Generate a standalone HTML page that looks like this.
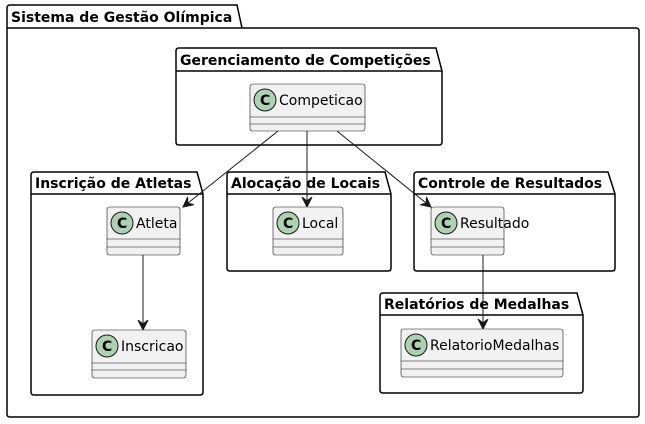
<!DOCTYPE html>
<html><head><meta charset="utf-8"><style>body{margin:0;background:#fff}svg{display:block}text{font-family:"DejaVu Sans","Liberation Sans",sans-serif}</style></head><body>
<svg width="645" height="424" viewBox="0 0 645 424" xmlns="http://www.w3.org/2000/svg">
<defs><marker id="a" markerWidth="12" markerHeight="12" refX="10" refY="6" orient="auto" markerUnits="userSpaceOnUse"><path d="M0,1 L10,6 L0,11 L4,6 Z" fill="#181818" stroke="#181818" stroke-width="1"/></marker></defs>
<g fill="none" stroke="#000" stroke-width="1.5">
<path d="M7,28 V8 Q7,5 10,5 H237 L242,28 H636 Q639,28 639,31 V414 Q639,417 636,417 H10 Q7,417 7,414 Z M7,28 H242"/>
<path d="M176,71 V51 Q176,48 179,48 H436 L442,71 V142 Q442,145 439,145 H179 Q176,145 176,142 Z M176,71 H442"/>
<path d="M31,194 V175 Q31,172 34,172 H197 L203,194 V392 Q203,395 200,395 H34 Q31,395 31,392 Z M31,194 H203"/>
<path d="M227,194 V175 Q227,172 230,172 H385 L391,194 V268 Q391,271 388,271 H230 Q227,271 227,268 Z M227,194 H391"/>
<path d="M414,194 V175 Q414,172 417,172 H608 L615,194 V268 Q615,271 612,271 H417 Q414,271 414,268 Z M414,194 H615"/>
<path d="M380,315 V296 Q380,293 383,293 H577 L583,315 V390 Q583,393 580,393 H383 Q380,393 380,390 Z M380,315 H583"/>
</g>
<g font-weight="bold" font-size="14" fill="#000">
<text x="11" y="22">Sistema de Gestão Olímpica</text>
<text x="180" y="65">Gerenciamento de Competições</text>
<text x="35" y="188">Inscrição de Atletas</text>
<text x="231" y="188">Alocação de Locais</text>
<text x="418" y="188">Controle de Resultados</text>
<text x="384" y="309">Relatórios de Medalhas</text>
</g>
<g stroke="#181818" stroke-width="1" fill="none" marker-end="url(#a)">
<line x1="278" y1="131" x2="183" y2="207"/>
<line x1="307" y1="131" x2="307" y2="207"/>
<line x1="337" y1="131" x2="431" y2="207"/>
<line x1="143" y1="255" x2="143" y2="330"/>
<line x1="483" y1="255" x2="483" y2="329"/>
</g>
<g font-size="14" fill="#000">
<g><rect x="250" y="84" width="115" height="47" rx="2.5" fill="#f1f1f1" stroke="#181818" stroke-width="0.6"/><line x1="250" y1="117" x2="365" y2="117" stroke="#181818" stroke-width="0.6"/><line x1="250" y1="124" x2="365" y2="124" stroke="#181818" stroke-width="0.6"/><circle cx="265" cy="100" r="11" fill="#add1b2" stroke="#181818" stroke-width="1"/><text x="260" y="105" font-weight="bold" font-size="14">C</text><text x="279" y="105">Competicao</text></g>
<g><rect x="107" y="207" width="73" height="48" rx="2.5" fill="#f1f1f1" stroke="#181818" stroke-width="0.6"/><line x1="107" y1="239" x2="180" y2="239" stroke="#181818" stroke-width="0.6"/><line x1="107" y1="247" x2="180" y2="247" stroke="#181818" stroke-width="0.6"/><circle cx="122" cy="223" r="11" fill="#add1b2" stroke="#181818" stroke-width="1"/><text x="117" y="228" font-weight="bold" font-size="14">C</text><text x="136" y="228">Atleta</text></g>
<g><rect x="92" y="330" width="94" height="48" rx="2.5" fill="#f1f1f1" stroke="#181818" stroke-width="0.6"/><line x1="92" y1="363" x2="186" y2="363" stroke="#181818" stroke-width="0.6"/><line x1="92" y1="370" x2="186" y2="370" stroke="#181818" stroke-width="0.6"/><circle cx="107" cy="346" r="11" fill="#add1b2" stroke="#181818" stroke-width="1"/><text x="102" y="351" font-weight="bold" font-size="14">C</text><text x="121" y="351">Inscricao</text></g>
<g><rect x="273" y="207" width="70" height="48" rx="2.5" fill="#f1f1f1" stroke="#181818" stroke-width="0.6"/><line x1="273" y1="239" x2="343" y2="239" stroke="#181818" stroke-width="0.6"/><line x1="273" y1="247" x2="343" y2="247" stroke="#181818" stroke-width="0.6"/><circle cx="288" cy="223" r="11" fill="#add1b2" stroke="#181818" stroke-width="1"/><text x="283" y="228" font-weight="bold" font-size="14">C</text><text x="302" y="228">Local</text></g>
<g><rect x="431" y="207" width="73" height="48" rx="2.5" fill="#f1f1f1" stroke="#181818" stroke-width="0.6"/><line x1="431" y1="239" x2="504" y2="239" stroke="#181818" stroke-width="0.6"/><line x1="431" y1="247" x2="504" y2="247" stroke="#181818" stroke-width="0.6"/><circle cx="446" cy="223" r="11" fill="#add1b2" stroke="#181818" stroke-width="1"/><text x="441" y="228" font-weight="bold" font-size="14">C</text><text x="460" y="228">Resultado</text></g>
<g><rect x="401" y="329" width="162" height="48" rx="2.5" fill="#f1f1f1" stroke="#181818" stroke-width="0.6"/><line x1="401" y1="361" x2="563" y2="361" stroke="#181818" stroke-width="0.6"/><line x1="401" y1="369" x2="563" y2="369" stroke="#181818" stroke-width="0.6"/><circle cx="416" cy="345" r="11" fill="#add1b2" stroke="#181818" stroke-width="1"/><text x="411" y="350" font-weight="bold" font-size="14">C</text><text x="430" y="350">RelatorioMedalhas</text></g>
</g>
</svg>
</body></html>
